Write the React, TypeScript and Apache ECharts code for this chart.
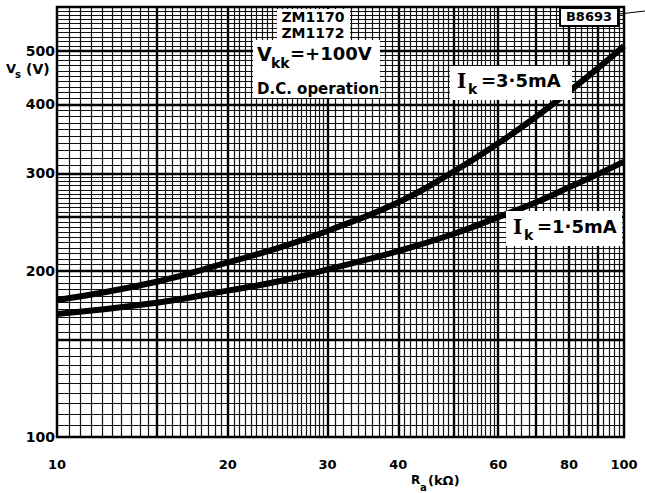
import React, { useEffect, useRef } from "react";
import * as echarts from "echarts";

// R_a (kΩ) sample points
const resistance = [10, 15, 20, 25, 30, 40, 50, 60, 70, 80, 90, 100];
// V_s (V) for I_k = 3.5 mA
const vsHigh = [177, 191, 207, 221, 236, 266, 302, 340, 380, 422, 465, 510];
// V_s (V) for I_k = 1.5 mA
const vsLow = [167, 175, 184, 192, 201, 217, 233, 250, 266, 283, 299, 315];

const xTickLabels = [10, 20, 30, 40, 60, 80, 100];
const yTickLabels = [100, 200, 300, 400, 500];

// log-paper rulings
const xHeavy = [15, 20, 30, 40, 50, 60, 70, 80, 90];
const yHeavy = [150, 200, 250, 300, 400, 500];

function fineXLines(): number[] {
  const out: number[] = [];
  for (let i = 21; i < 60; i++) out.push(i / 2); // 10.5 .. 29.5 step 0.5
  for (let v = 31; v < 60; v++) out.push(v); // 31 .. 59 step 1
  for (let v = 62; v < 100; v += 2) out.push(v); // 62 .. 98 step 2
  return out.filter((v) => xHeavy.indexOf(v) < 0);
}
function fineYLines(): number[] {
  const out: number[] = [];
  for (let v = 105; v < 300; v += 5) out.push(v);
  for (let v = 310; v < 600; v += 10) out.push(v);
  return out.filter((v) => yHeavy.indexOf(v) < 0);
}

const FONT = '"DejaVu Sans", "Liberation Sans", sans-serif';
const SERIF = '"DejaVu Serif", "Liberation Serif", serif';

export default function App() {
  const ref = useRef<HTMLDivElement>(null);

  useEffect(() => {
    if (!ref.current) return;
    const chart = echarts.init(ref.current, null, { renderer: "svg" });

    const markData: any[] = [];
    fineXLines().forEach((v) => markData.push({ xAxis: v, lineStyle: { width: 1.2, color: "#111", type: "solid" } }));
    xHeavy.forEach((v) => markData.push({ xAxis: v, lineStyle: { width: 2.4, color: "#000", type: "solid" } }));
    fineYLines().forEach((v) => markData.push({ yAxis: v, lineStyle: { width: 1.2, color: "#111", type: "solid" } }));
    yHeavy.forEach((v) => markData.push({ yAxis: v, lineStyle: { width: 2.4, color: "#000", type: "solid" } }));

    const pair = (xs: number[], ys: number[]) => xs.map((x, i) => [x, ys[i]]);
    const txt = (x: number, y: number, text: string, font: string, extra: any = {}) => ({
      type: "text",
      x,
      y,
      z: 12,
      silent: true,
      style: { text, font, fill: "#000", align: "left", verticalAlign: "top", ...extra },
    });

    chart.setOption({
      animation: false,
      backgroundColor: "#fff",
      grid: {
        left: 57,
        right: 21,
        top: 7,
        bottom: 56,
        show: true,
        borderColor: "#000",
        borderWidth: 2.5,
        backgroundColor: "transparent",
        z: 3,
      },
      xAxis: {
        type: "log",
        logBase: 10,
        min: 10,
        max: 100,
        axisLine: { show: false },
        axisTick: { show: false },
        splitLine: { show: false },
        axisLabel: {
          customValues: xTickLabels,
          fontFamily: FONT,
          fontWeight: "bold",
          fontSize: 13,
          color: "#000",
          margin: 21,
        },
      },
      yAxis: {
        type: "log",
        logBase: 10,
        min: 100,
        max: 600,
        axisLine: { show: false },
        axisTick: { show: false },
        splitLine: { show: false },
        axisLabel: {
          customValues: yTickLabels,
          fontFamily: FONT,
          fontWeight: "bold",
          fontSize: 14,
          color: "#000",
          margin: 2,
        },
      },
      series: [
        {
          type: "line",
          name: "rulings",
          data: [[10, 100]],
          symbol: "none",
          lineStyle: { opacity: 0 },
          silent: true,
          z: 1,
          markLine: {
            silent: true,
            symbol: ["none", "none"],
            label: { show: false },
            animation: false,
            data: markData,
          },
        },
        {
          type: "line",
          name: "Ik = 3.5 mA",
          data: pair(resistance, vsHigh),
          smooth: true,
          symbol: "none",
          lineStyle: { color: "#000", width: 6 },
          z: 5,
        },
        {
          type: "line",
          name: "Ik = 1.5 mA",
          data: pair(resistance, vsLow),
          smooth: true,
          symbol: "none",
          lineStyle: { color: "#000", width: 6 },
          z: 5,
        },
      ],
      graphic: [
        // title block
        { type: "rect", z: 10, silent: true, shape: { x: 253, y: 40, width: 127, height: 58 }, style: { fill: "#fff" } },
        { type: "rect", z: 10, silent: true, shape: { x: 277, y: 9, width: 73, height: 31 }, style: { fill: "#fff" } },
        txt(313, 10, "ZM1170", `bold 14px ${FONT}`, { align: "center", lineHeight: 14 }),
        txt(313, 26, "ZM1172", `bold 14px ${FONT}`, { align: "center", lineHeight: 14 }),
        txt(257, 44, "V", `bold 19px ${FONT}`, { lineHeight: 19 }),
        txt(271, 56, "kk", `bold 14px ${FONT}`, { lineHeight: 14 }),
        txt(290, 44, "=+100V", `bold 18px ${FONT}`, { lineHeight: 19 }),
        txt(257, 80, "D.C. operation", `bold 15px ${FONT}`, { lineHeight: 17 }),
        // drawing number
        { type: "rect", z: 10, silent: true, shape: { x: 560, y: 8, width: 58, height: 18 }, style: { fill: "#fff", stroke: "#000", lineWidth: 2 } },
        txt(589, 10, "B8693", `bold 13px ${FONT}`, { align: "center" }),
        { type: "line", z: 10, silent: true, shape: { x1: 619, y1: 14, x2: 645, y2: 11 }, style: { stroke: "#000", lineWidth: 1 } },
        // curve labels
        { type: "rect", z: 10, silent: true, shape: { x: 450, y: 66, width: 122, height: 34 }, style: { fill: "#fff" } },
        txt(457, 71, "I", `bold 20px ${SERIF}`, { lineHeight: 20 }),
        txt(468, 82, "k", `bold 14px ${FONT}`, { lineHeight: 14 }),
        txt(481, 71, "=3·5mA", `bold 18px ${FONT}`, { lineHeight: 19 }),
        { type: "rect", z: 10, silent: true, shape: { x: 506, y: 211, width: 116, height: 35 }, style: { fill: "#fff" } },
        txt(513, 217, "I", `bold 20px ${SERIF}`, { lineHeight: 20 }),
        txt(524, 228, "k", `bold 14px ${FONT}`, { lineHeight: 14 }),
        txt(537, 217, "=1·5mA", `bold 18px ${FONT}`, { lineHeight: 19 }),
        // axis titles
        txt(6, 62, "V", `bold 13px ${FONT}`, { lineHeight: 13 }),
        txt(15, 69, "s", `bold 10px ${FONT}`, { lineHeight: 10 }),
        txt(26, 61, "(V)", `bold 14px ${FONT}`, { lineHeight: 15 }),
        txt(411, 474, "R", `bold 12px ${FONT}`, { lineHeight: 12 }),
        txt(420, 482, "a", `bold 10px ${FONT}`, { lineHeight: 10 }),
        txt(428, 473, "(kΩ)", `bold 13px ${FONT}`, { lineHeight: 14 }),
      ],
    });

    return () => chart.dispose();
  }, []);

  return (
    <div
      ref={ref}
      style={{ position: "fixed", left: 0, top: 0, width: 645, height: 493, background: "#fff" }}
    />
  );
}
